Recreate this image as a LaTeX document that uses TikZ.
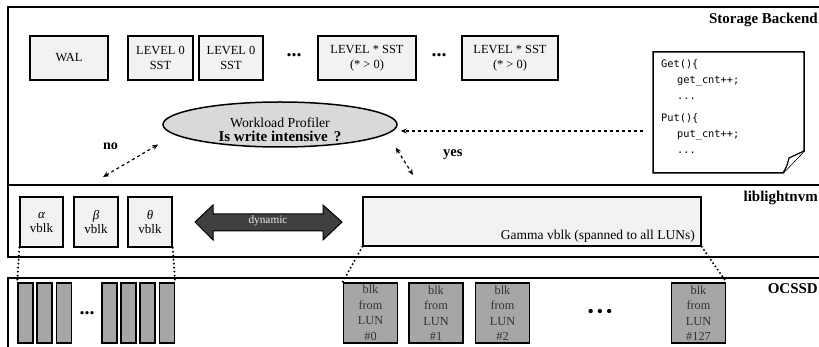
\documentclass[tikz,border=0pt]{standalone}
\usepackage{fontspec}
\setmainfont{Liberation Serif}
\newfontfamily\codefont{DejaVu Sans Mono}
\usetikzlibrary{shapes.geometric,arrows.meta}

\definecolor{boxfill}{HTML}{F2F2F2}
\definecolor{ellfill}{HTML}{D9D9D9}
\definecolor{blkfill}{HTML}{A6A6A6}
\definecolor{arrfill}{HTML}{404040}

\begin{document}
\begin{tikzpicture}[x=1pt,y=-1pt,
  frame/.style={line width=1.5pt},
  tbox/.style={draw, line width=1.6pt, fill=boxfill, minimum height=44pt, align=center,
    font=\fontsize{12.4}{15}\selectfont, inner sep=0pt},
  vbox/.style={draw, line width=1.4pt, fill=boxfill, minimum width=43pt, minimum height=50pt,
    align=center, font=\fontsize{13}{14}\selectfont, inner sep=0pt},
  barbox/.style={draw, line width=1.4pt, fill=blkfill, minimum width=15pt, minimum height=60pt, inner sep=0pt},
  blkbox/.style={draw, line width=1.8pt, fill=blkfill, minimum width=54pt, minimum height=60pt,
    align=center, font=\fontsize{12.3}{15.5}\selectfont, text=black!80, inner sep=0pt},
  layer/.style={font=\bfseries\fontsize{15}{15}\selectfont, anchor=base east, inner sep=0pt},
  dasharrow/.style={dashed, line width=1.2pt},
  dotline/.style={line width=2.2pt, line cap=round, dash pattern=on 0pt off 4pt},
  dotsym/.style={font=\bfseries\fontsize{20}{20}\selectfont, inner sep=0pt}
]
\useasboundingbox (0,0) rectangle (819,347);

% layer frames
\draw[frame] (830,7) -- (8,7) -- (8,185) -- (830,185);
\draw[frame] (8,185) -- (8,257) -- (830,257);
\draw[frame] (830,278) -- (8,278) -- (8,352);

% layer names
\node[layer] (sb) at (818,24) {Storage Backend};
\node[layer] (ll) at (818,202) {liblightnvm};
\node[layer] (oc) at (818,294) {OCSSD};

% storage backend files
\node[tbox, minimum width=78pt] (wal) at (69,58) {WAL};
\node[tbox, minimum width=65pt] (l0a) at (160.5,58) {LEVEL 0\\SST};
\node[tbox, minimum width=64pt] (l0b) at (231,58) {LEVEL 0\\SST};
\node[dotsym] (d1) at (294,55) {...};
\node[tbox, minimum width=98pt] (lna) at (367,58) {LEVEL * SST\\(* > 0)};
\node[dotsym] (d2) at (439,55) {...};
\node[tbox, minimum width=96pt] (lnb) at (510,58) {LEVEL * SST\\(* > 0)};

% workload profiler
\node[ellipse, draw, line width=1.5pt, fill=ellfill, minimum width=234pt, minimum height=45pt,
  inner sep=0pt] (ell) at (280,124.5) {};
\node[anchor=base, inner sep=0pt, font=\fontsize{13.8}{15}\selectfont] (wp) at (280,127.5) {Workload Profiler};
\node[anchor=base, inner sep=0pt, font=\bfseries\fontsize{15}{15}\selectfont] (wi) at (280,142) {Is write intensive\, ?};

% code note with folded corner
\draw[line width=1.5pt, fill=white] (653,52) -- (804,52) -- (804,151) -- (783,173) -- (653,173) -- cycle;
\draw[line width=1.2pt, fill=white] (783,173) .. controls (787,166) .. (789,158) -- (804,151);
\node[anchor=north west, inner sep=0pt, align=left, font=\codefont\fontsize{10.3}{16}\selectfont] (code) at (661,59)
  {Get()\{\\
   \hspace*{16pt}get\_cnt++;\\
   \hspace*{16pt}...\\[6pt]
   Put()\{\\
   \hspace*{16pt}put\_cnt++;\\
   \hspace*{16pt}...};

% profiler connectors
\coordinate (src) at (643,131);
\coordinate (noend) at (103,177);
\coordinate (yesend) at (413,175);
\draw[dasharrow, -{Stealth[length=6pt,width=5pt]}, shorten >=3pt] (src) -- (ell.east |- src);
\draw[dasharrow, {Stealth[length=6pt,width=5pt]}-{Stealth[length=6pt,width=5pt]}] (noend) -- ([shift={(-4,20)}]ell.west);
\draw[dasharrow, {Stealth[length=6pt,width=5pt]}-{Stealth[length=6pt,width=5pt]}] ([shift={(-2,23)}]ell.east) -- (yesend);
\node[font=\bfseries\fontsize{14}{14}\selectfont, anchor=base west, inner sep=0pt] (no) at (103,150) {no};
\node[font=\bfseries\fontsize{14.5}{14}\selectfont, anchor=base west, inner sep=0pt] (yes) at (443,157) {yes};

% liblightnvm virtual blocks
\node[vbox] (va) at (41.5,222) {\itshape α\\vblk};
\node[vbox, minimum width=44pt] (vb) at (96,222) {\itshape β\\vblk};
\node[vbox, minimum width=44pt] (vt) at (150,222) {\itshape θ\\vblk};
\node[draw, line width=1.4pt, fill=boxfill, minimum width=338pt, minimum height=49pt, inner sep=0pt] (gam) at (532,221.5) {};
\node[anchor=base east, inner sep=0pt, font=\fontsize{13.5}{14}\selectfont] (gtext) at (695,240) {Gamma vblk (spanned to all LUNs)};

% dynamic double arrow
\draw[line width=1pt, fill=arrfill] (195,222) -- (213,205) -- (213,214) -- (323,214) -- (323,205) -- (342,222)
  -- (323,240) -- (323,231) -- (213,231) -- (213,240) -- cycle;
\node[text=black!8, font=\fontsize{11.3}{12}\selectfont, inner sep=0pt] (dyn) at (268,221) {dynamic};

% OCSSD blocks
\node[barbox] (b1) at (25.5,313) {};
\node[barbox] (b2) at (44.5,313) {};
\node[barbox] (b3) at (64,313) {};
\node[dotsym] (d3) at (87,313) {...};
\node[barbox] (b4) at (109.5,313) {};
\node[barbox] (b5) at (128.5,313) {};
\node[barbox] (b6) at (147.5,313) {};
\node[barbox] (b7) at (167,313) {};

\node[blkbox] (k0) at (370.5,313) {blk\\from\\LUN\\\#0};
\node[blkbox] (k1) at (436,313) {blk\\from\\LUN\\\#1};
\node[blkbox] (k2) at (502.5,313) {blk\\from\\LUN\\\#2};
\node[inner sep=0pt, font=\fontsize{18}{18}\selectfont] (d4) at (600,313) {•\hspace{3pt}•\hspace{3pt}•};
\node[blkbox] (k127) at (698.5,313) {blk\\from\\LUN\\\#127};

% mapping of virtual blocks onto physical blocks
\draw[dotline] (va.south west) -- (b1.north west);
\draw[dotline] (vt.south east) -- (b7.north east);
\draw[dotline] (gam.south west) -- (k0.north west);
\draw[dotline] (gam.south east) -- (k127.north east);
\end{tikzpicture}
\end{document}
